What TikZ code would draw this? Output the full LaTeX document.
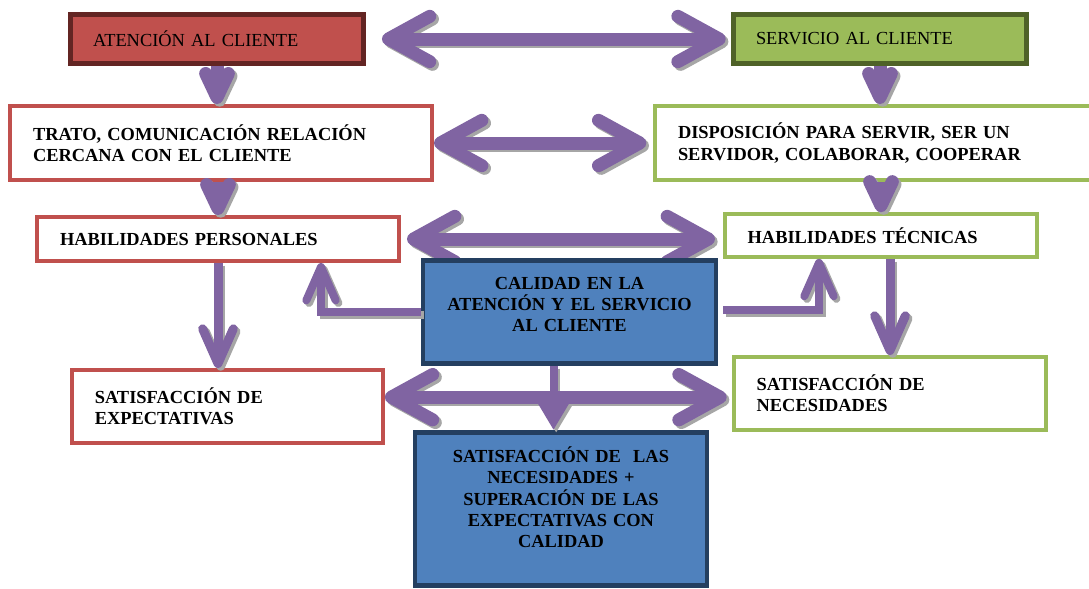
\documentclass[tikz,border=0pt]{standalone}
\usepackage{fontspec}
\setmainfont{Liberation Serif}
\usetikzlibrary{arrows.meta}

\definecolor{redFill}{HTML}{C0504D}
\definecolor{redDark}{HTML}{632523}
\definecolor{greenFill}{HTML}{9BBB59}
\definecolor{greenDark}{HTML}{4F6228}
\definecolor{blueFill}{HTML}{4F81BD}
\definecolor{blueDark}{HTML}{243F60}
\definecolor{arrowPurple}{HTML}{8064A2}
\definecolor{shadowGray}{HTML}{A6A6A6}

\begin{document}
\begin{tikzpicture}[x=0.75pt, y=-0.75pt,
    boxStyle/.style={rectangle, draw, line width=3pt, fill=white, inner xsep=17pt, inner ysep=2pt, align=left, font=\fontsize{13.8}{15.8}\selectfont\bfseries},
    headStyle/.style={boxStyle, line width=3.4pt, font=\fontsize{13.8}{15.8}\selectfont},
    centerStyle/.style={boxStyle, line width=3.4pt, draw=blueDark, fill=blueFill, align=center, inner xsep=6pt},
    arrowStyle/.style={draw=arrowPurple, line cap=butt},
    bigArrow/.style={arrowStyle, line width=9.75pt, >={Straight Barb[length=31pt, width=34pt, round]}},
    shortArrow/.style={arrowStyle, line width=9.75pt, >={Straight Barb[length=18pt, width=17pt, round]}},
    thinArrow/.style={arrowStyle, line width=6.75pt, >={Straight Barb[length=26pt, width=23pt, round]}},
    elbowArrow/.style={arrowStyle, line width=6pt, >={Straight Barb[length=25pt, width=22pt, round]}},
    stemArrow/.style={arrowStyle, line width=6pt, >={Triangle[length=20pt, width=22pt]}}]

    \useasboundingbox[fill=white] (0,0) rectangle (1089,589);

    % Headers
    \node[headStyle, draw=redDark, fill=redFill, minimum width=220pt, minimum height=37pt, text width=186pt] (atencion) at (217,39) {ATENCIÓN AL CLIENTE};
    \node[headStyle, draw=greenDark, fill=greenFill, minimum width=220pt, minimum height=37pt, text width=186pt] (servicio) at (880,39) {SERVICIO AL CLIENTE};

    % Row 2
    \node[boxStyle, draw=redFill, minimum width=316.5pt, minimum height=55.5pt, text width=282pt] (trato) at (221,143) {TRATO, COMUNICACIÓN RELACIÓN\\CERCANA CON EL CLIENTE};
    \node[boxStyle, draw=greenFill, minimum width=349.5pt, minimum height=55.5pt, text width=315pt] (disposicion) at (888,143) {DISPOSICIÓN PARA SERVIR, SER UN\\SERVIDOR, COLABORAR, COOPERAR};

    % Row 3
    \node[boxStyle, draw=redFill, minimum width=271.5pt, minimum height=33pt, text width=237pt] (habPersonales) at (218,239) {HABILIDADES PERSONALES};
    \node[boxStyle, draw=greenFill, minimum width=234pt, minimum height=32pt, text width=200pt] (habTecnicas) at (881,235.5) {HABILIDADES TÉCNICAS};

    % Row 4
    \node[boxStyle, draw=redFill, minimum width=233pt, minimum height=54.75pt, text width=199pt] (satExpectativas) at (227.5,406.5) {SATISFACCIÓN DE\\EXPECTATIVAS};
    \node[boxStyle, draw=greenFill, minimum width=234pt, minimum height=54.75pt, text width=200pt] (satNecesidades) at (890,393.5) {SATISFACCIÓN DE\\NECESIDADES};

    % shadow first, then the arrow itself
    \foreach \arrowColor/\shadowShift in {shadowGray/2pt, arrowPurple/0pt} {
        \begin{scope}[transform canvas={shift={(\shadowShift,-\shadowShift)}}, arrowStyle/.style={draw=\arrowColor, line cap=butt}]
            \draw[bigArrow, <->, shorten <=4.5pt, shorten >=6pt] (habPersonales.east) -- (habPersonales.east -| habTecnicas.west);
        \end{scope}
    }

    % Centre
    \node[centerStyle, minimum width=219.5pt, minimum height=77.5pt, text width=207pt] (calidad) at (569.5,312) {CALIDAD EN LA\\ATENCIÓN Y EL SERVICIO\\AL CLIENTE\\[-4pt]\mbox{}};
    \node[centerStyle, minimum width=218.5pt, minimum height=115pt, text width=207pt] (satTotal) at (561,509) {SATISFACCIÓN DE~ LAS\\NECESIDADES +\\SUPERACIÓN DE LAS\\EXPECTATIVAS CON\\CALIDAD\\[2pt]\mbox{}};

    % Edges
    \foreach \arrowColor/\shadowShift in {shadowGray/2pt, arrowPurple/0pt} {
        \begin{scope}[transform canvas={shift={(\shadowShift,-\shadowShift)}}, arrowStyle/.style={draw=\arrowColor, line cap=butt}]
            \draw[bigArrow, <->, shorten <=12pt, shorten >=4pt] (atencion.east) -- (servicio.west);
            \draw[bigArrow, <->, shorten >=5pt] (trato.east) -- (disposicion.west);

            \draw[shortArrow, ->] (atencion.south) -- (atencion.south |- trato.north);
            \draw[shortArrow, ->] (servicio.south) -- (servicio.south |- disposicion.north);
            \draw[shortArrow, ->] (habPersonales.north |- trato.south) -- (habPersonales.north);
            \draw[shortArrow, ->] (habTecnicas.north |- disposicion.south) -- (habTecnicas.north);

            \draw[thinArrow, ->] (habPersonales.south) -- (habPersonales.south |- satExpectativas.north);
            \draw[thinArrow, ->] (satNecesidades.north |- habTecnicas.south) -- (satNecesidades.north);

            \draw[elbowArrow, ->] (calidad.west) -| ([xshift=-60pt]habPersonales.south east);
            \draw[elbowArrow, ->] ([xshift=4pt, yshift=1.5pt]calidad.east) -| ([xshift=72pt]habTecnicas.south west);

            \draw[stemArrow, ->] ([xshift=-12pt]calidad.south) -- ([xshift=-12pt]calidad.south |- satTotal.north);
            \draw[bigArrow, <->, shorten >=4pt] ([yshift=7pt]satExpectativas.east) -- ([yshift=7pt]satExpectativas.east -| satNecesidades.west);
        \end{scope}
    }
\end{tikzpicture}
\end{document}
